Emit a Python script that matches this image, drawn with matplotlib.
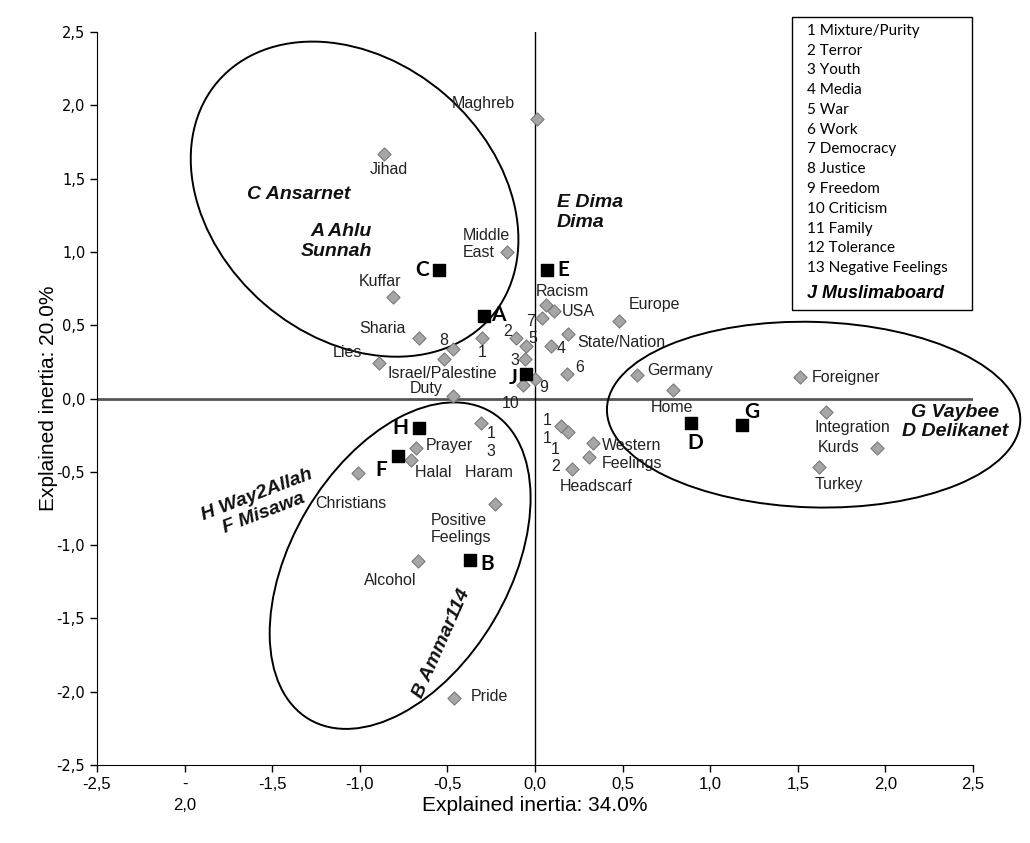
import matplotlib
matplotlib.use("Agg")
import matplotlib.pyplot as plt
from matplotlib.patches import Ellipse, Rectangle
from matplotlib.transforms import Affine2D

# words of the correspondence analysis (grey diamonds)
word_labels = ["Maghreb", "Jihad", "Middle\nEast", "Kuffar", "Sharia", "Lies", "8", "1",
               "Israel/Palestine", "2", "5", "7", "Racism", "USA", "4", "State/Nation", "6",
               "3", "9", "10", "Duty", "Europe", "Germany", "Home", "Foreigner", "Integration",
               "Kurds", "Turkey", "1\n3", "Prayer", "Halal   Haram", "Christians",
               "Positive\nFeelings", "1\n1", "1\n2", "Western\nFeelings", "", "Headscarf",
               "Alcohol", "Pride"]
word_x = [0.01, -0.86, -0.16, -0.81, -0.66, -0.89, -0.47, -0.30, -0.52, -0.11, -0.05, 0.04,
          0.06, 0.11, 0.09, 0.19, 0.18, -0.06, 0.00, -0.07, -0.47, 0.48, 0.58, 0.79, 1.51,
          1.66, 1.95, 1.62, -0.31, -0.68, -0.71, -1.01, -0.23, 0.15, 0.19, 0.33, 0.31, 0.21,
          -0.67, -0.46]
word_y = [1.91, 1.67, 1.00, 0.69, 0.41, 0.24, 0.34, 0.41, 0.27, 0.41, 0.36, 0.55, 0.64,
          0.60, 0.36, 0.44, 0.17, 0.27, 0.13, 0.09, 0.02, 0.53, 0.16, 0.06, 0.15, -0.09,
          -0.34, -0.47, -0.17, -0.34, -0.42, -0.51, -0.72, -0.19, -0.23, -0.30, -0.40, -0.48,
          -1.11, -2.04]

# forums (black squares)
forum_labels = ["C", "E", "A", "J", "H", "F", "B", "D", "G"]
forum_x = [-0.55, 0.07, -0.29, -0.05, -0.66, -0.78, -0.37, 0.89, 1.18]
forum_y = [0.88, 0.88, 0.56, 0.17, -0.20, -0.39, -1.10, -0.17, -0.18]

legend_items = ["1 Mixture/Purity", "2 Terror", "3 Youth", "4 Media", "5 War", "6 Work",
                "7 Democracy", "8 Justice", "9 Freedom", "10 Criticism", "11 Family",
                "12 Tolerance", "13 Negative Feelings"]

x_ticks = [-2.5, -2.0, -1.5, -1.0, -0.5, 0.0, 0.5, 1.0, 1.5, 2.0, 2.5]
x_ticklabels = ["-2,5", "-\n2,0", "-1,5", "-1,0", "-0,5", "0,0", "0,5", "1,0", "1,5", "2,0", "2,5"]
y_ticks = x_ticks
y_ticklabels = ["-2,5", "-2,0", "-1,5", "-1,0", "-0,5", "0,0", "0,5", "1,0", "1,5", "2,0", "2,5"]

# label placement: offset in pixels (dx, dy up) and alignment
word_pos = [(-53, 15, "center"), (4, -16, "center"), (-44, 8, "left"), (-13, 16, "center"),
            (-37, 10, "center"), (-32, 11, "center"), (-9, 8, "center"), (0, -14, "center"),
            (-2, -15, "center"), (-8, 7, "center"), (7, 7, "center"), (-11, -4, "center"),
            (-10, 13, "left"), (7, -1, "left"), (10, -3, "center"), (9, -8, "left"),
            (13, 6, "center"), (-10, -2, "center"), (9, -8, "center"), (-12, -18, "center"),
            (-27, 7, "center"), (10, 16, "left"), (11, 5, "left"), (-1, -18, "center"),
            (12, -1, "left"), (27, -16, "center"), (-17, 1, "right"), (-4, -17, "left"),
            (10, -19, "center"), (10, 3, "left"), (4, -12, "left"), (-7, -30, "center"),
            (-64, -25, "left"), (-14, -3, "center"), (-13, -26, "center"), (9, -12, "left"),
            (0, 0, "center"), (-12, -18, "left"), (-27, -19, "center"), (16, 1, "left")]
forum_pos = [(-17, 0), (16, 0), (14, 1), (-13, -4), (-19, 0), (-17, -14), (17, -4), (4, -20),
             (10, 13)]

plt.rcParams["font.family"] = ["Liberation Sans", "DejaVu Sans"]

fig = plt.figure(figsize=(10.30, 8.43), dpi=100)
ax = fig.add_axes([0.0942, 0.0925, 0.8505, 0.8695])
ax.set_xlim(-2.5, 2.5)
ax.set_ylim(-2.5, 2.5)

ax.axhline(0, color="#555555", lw=2.0, zorder=1)
ax.axvline(0, color="black", lw=1, zorder=1)

ax.scatter(word_x, word_y, marker="D", s=45, color="#a6a6a6", edgecolor="#7a7a7a",
           linewidth=0.8, zorder=3)
ax.scatter(forum_x, forum_y, marker="s", s=80, color="black", zorder=4)

for lab, x, y, (dx, dy, ha) in zip(word_labels, word_x, word_y, word_pos):
    ax.annotate(lab, (x, y), xytext=(dx, dy), textcoords="offset pixels", ha=ha,
                va="center", multialignment=ha, fontsize=11.5, color="#222222", zorder=5)

for lab, x, y, (dx, dy) in zip(forum_labels, forum_x, forum_y, forum_pos):
    ax.annotate(lab, (x, y), xytext=(dx, dy), textcoords="offset pixels", ha="center",
                va="center", fontsize=15, fontweight="bold", family=["Lato", "DejaVu Sans"],
                zorder=5)

# ellipses: centre, semi-axes (in x units), angle in screen space
k = 175 / 146.6
ellipses = [((-1.03, 1.36), 1.03, 0.79, -40.8),
            ((1.59, -0.11), 1.18, 0.53, -1.7),
            ((-0.77, -1.14), 1.02, 0.62, 59.4)]
for (cx, cy), a, b, ang in ellipses:
    tr = Affine2D().scale(1, k).translate(cx, cy) + ax.transData
    e = Ellipse((0, 0), 2 * a, 2 * b, angle=ang, fill=False, edgecolor="black", lw=1.4,
                transform=tr, clip_on=False, zorder=2)
    ax.add_patch(e)

grp = dict(fontsize=14, fontweight="bold", fontstyle="italic", color="#111111", zorder=5)
ax.text(-1.35, 1.39, "C Ansarnet", ha="center", va="center", **grp)
ax.text(-0.93, 1.07, "A Ahlu\nSunnah", ha="right", va="center", multialignment="right", **grp)
ax.text(0.126, 1.27, "E Dima\nDima", ha="left", va="center", **grp)
ax.text(2.40, -0.16, "G Vaybee\nD Delikanet", ha="center", va="center", **grp)
ax.text(-1.57, -0.72, "H Way2Allah\nF Misawa", ha="center", va="center", rotation=21,
        rotation_mode="anchor", **grp)
ax.text(-0.53, -1.67, "B Ammar114", ha="center", va="center", rotation=66,
        rotation_mode="anchor", **grp)

ax.spines["top"].set_visible(False)
ax.spines["right"].set_visible(False)
ax.set_xticks(x_ticks)
ax.set_xticklabels(x_ticklabels, family=["Liberation Sans Narrow", "Liberation Sans"],
                   fontsize=12, va="top", linespacing=1.5)
ax.set_yticks(y_ticks)
ax.set_yticklabels(y_ticklabels, family=["DejaVu Sans"], fontsize=10.5)
ax.tick_params(direction="out", length=5, width=1)
ax.set_xlabel("Explained inertia: 34.0%", fontsize=15,
              family=["Liberation Sans Narrow", "Liberation Sans"])
ax.set_ylabel("Explained inertia: 20.0%", fontsize=15,
              family=["Liberation Sans Narrow", "Liberation Sans"])
ax.xaxis.set_label_coords(0.5, -0.042)
ax.yaxis.set_label_coords(-0.045, 0.5)

# legend box
fig.patches.append(Rectangle((0.769, 0.632), 0.175, 0.348, transform=fig.transFigure,
                             fill=False, edgecolor="black", lw=1))
for i, item in enumerate(legend_items):
    fig.text(0.7835, 1 - (31 + 19.75 * i) / 843, item, va="center", ha="left",
             fontsize=11, family=["Lato", "DejaVu Sans"])
fig.text(0.7835, 1 - 294 / 843, "J Muslimaboard", va="center", ha="left", fontsize=13,
         fontweight="bold", fontstyle="italic")

fig.savefig("out.png", dpi=100)
